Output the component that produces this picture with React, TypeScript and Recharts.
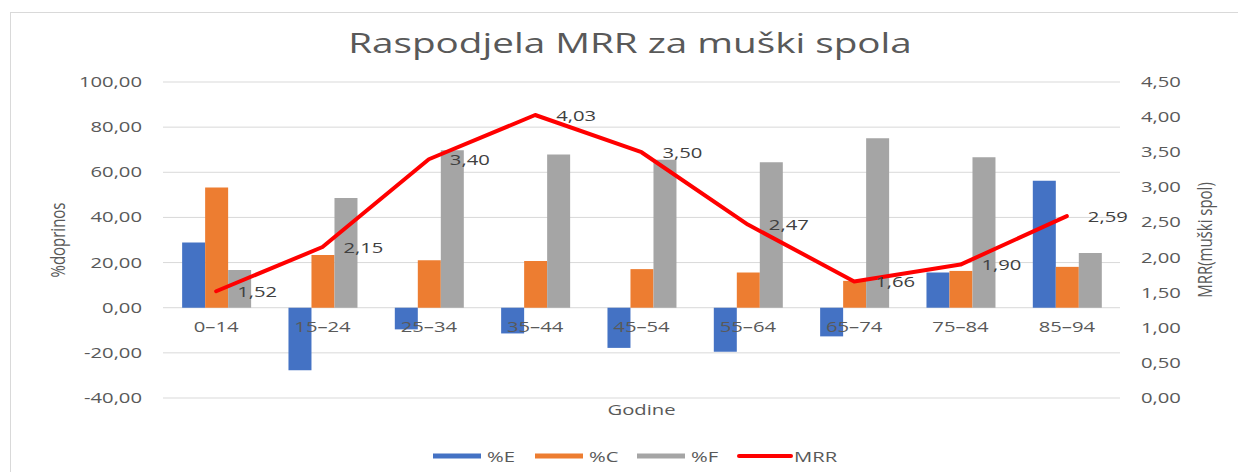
import React from "react"
import {
  Bar,
  CartesianGrid,
  ComposedChart,
  Label,
  LabelList,
  Legend,
  Line,
  XAxis,
  YAxis,
} from "recharts"

// age groups and contributions (%), MRR on right axis
const categories = ["0–14", "15–24", "25–34", "35–44", "45–54", "55–64", "65–74", "75–84", "85–94"]
const pctE = [28.9, -27.7, -9.6, -11.4, -17.8, -19.5, -12.7, 15.6, 56.3]
const pctC = [53.3, 23.4, 21.0, 20.7, 17.1, 15.6, 11.9, 16.3, 18.1]
const pctF = [16.7, 48.6, 69.8, 67.9, 65.5, 64.5, 75.1, 66.7, 24.2]
const mrr = [1.52, 2.15, 3.4, 4.03, 3.5, 2.47, 1.66, 1.9, 2.59]
const seriesNames = ["%E", "%C", "%F", "MRR"]

const leftTicks = [-40, -20, 0, 20, 40, 60, 80, 100]
const rightTicks = [0, 0.5, 1, 1.5, 2, 2.5, 3, 3.5, 4, 4.5]

const data = categories.map((cat, i) => ({
  cat,
  E: pctE[i],
  C: pctC[i],
  F: pctF[i],
  MRR: mrr[i],
}))

const SX = 1.35 // the original picture is stretched sideways
const FONT = "'Open Sans', sans-serif"
const GREY = "#595959"

const fmt = (v: number) => v.toFixed(2).replace(".", ",")

function LeftTick({ x, y, payload }: any) {
  return (
    <text transform={`translate(${x},${y + 5}) scale(${SX},1)`} textAnchor="end" fontSize={15} fill={GREY} fontFamily={FONT}>
      {fmt(payload.value)}
    </text>
  )
}

function RightTick({ x, y, payload }: any) {
  return (
    <text transform={`translate(${x},${y + 5}) scale(${SX},1)`} textAnchor="start" fontSize={15} fill={GREY} fontFamily={FONT}>
      {fmt(payload.value)}
    </text>
  )
}

// category labels sit next to the zero line, like Excel does
function CatTick({ x, y, payload }: any) {
  return (
    <text transform={`translate(${x},${y - 66}) scale(${SX},1)`} textAnchor="middle" fontSize={15} fill={GREY} fontFamily={FONT}>
      {payload.value}
    </text>
  )
}

function MrrLabel({ x, y, value }: any) {
  return (
    <text transform={`translate(${x + 21},${y + 5.5}) scale(${SX},1)`} fontSize={15} fill="#404040" fontFamily={FONT}>
      {fmt(value)}
    </text>
  )
}

function LegendContent({ payload }: any) {
  const items = [...(payload || [])].sort(
    (a: any, b: any) => seriesNames.indexOf(a.value) - seriesNames.indexOf(b.value)
  )
  let pos = 0
  return (
    <svg width={420} height={24}>
      {items.map((item: any) => {
        const x = pos
        const textW = String(item.value).length * 12.5
        pos += 48 + 6 + textW + 23
        const isLine = item.dataKey === "MRR"
        return (
          <g key={item.value}>
            {isLine ? (
              <line x1={x} x2={x + 52} y1={12} y2={12} stroke={item.color} strokeWidth={4} strokeLinecap="round" />
            ) : (
              <rect x={x} y={9.5} width={48} height={5} fill={item.color} />
            )}
            <text
              transform={`translate(${x + (isLine ? 55 : 54)},17.5) scale(${SX},1)`}
              fontSize={15}
              fill={GREY}
              fontFamily={FONT}
            >
              {item.value}
            </text>
          </g>
        )
      })}
    </svg>
  )
}

export default function App() {
  return (
    <div style={{ position: "absolute", left: 0, top: 0, width: 1238, height: 472, overflow: "hidden", background: "#fff" }}>
      <div style={{ position: "absolute", left: 10, top: 12, width: 1240, height: 470, border: "1px solid #d9d9d9" }} />
      <div
        style={{
          position: "absolute",
          left: 630,
          top: 28,
          fontFamily: FONT,
          fontSize: 28,
          lineHeight: "28px",
          color: GREY,
          whiteSpace: "nowrap",
          transform: "translateX(-50%) scaleX(1.38)",
        }}
      >
        Raspodjela MRR za muški spola
      </div>
      <ComposedChart
        width={1238}
        height={472}
        data={data}
        margin={{ top: 82, right: 38, left: 83, bottom: 69 }}
        barCategoryGap="18%"
        barGap={0}
      >
        <CartesianGrid yAxisId="left" vertical={false} stroke="#d9d9d9" strokeWidth={1} />
        <XAxis
          dataKey="cat"
          height={5}
          interval={0}
          tickLine={false}
          axisLine={false}
          tickSize={0}
          tickMargin={0}
          tick={<CatTick />}
        >
          <Label
            content={({ viewBox }: any) => (
              <text
                transform={`translate(${viewBox.x + viewBox.width / 2},${viewBox.y + 17}) scale(${SX},1)`}
                textAnchor="middle"
                fontSize={15}
                fill={GREY}
                fontFamily={FONT}
              >
                Godine
              </text>
            )}
          />
        </XAxis>
        <YAxis
          yAxisId="left"
          width={80}
          domain={[-40, 100]}
          ticks={leftTicks}
          interval={0}
          tickLine={false}
          axisLine={false}
          tickSize={0}
          tickMargin={21}
          tick={<LeftTick />}
        >
          <Label
            content={({ viewBox }: any) => (
              <text
                transform={`translate(${viewBox.x - 18},${viewBox.y + viewBox.height / 2}) scale(${SX},1) rotate(-90)`}
                textAnchor="middle"
                fontSize={15}
                fill={GREY}
                fontFamily={FONT}
              >
                %doprinos
              </text>
            )}
          />
        </YAxis>
        <YAxis
          yAxisId="right"
          orientation="right"
          width={80}
          domain={[0, 4.5]}
          ticks={rightTicks}
          interval={0}
          tickLine={false}
          axisLine={false}
          tickSize={0}
          tickMargin={21}
          tick={<RightTick />}
        >
          <Label
            content={({ viewBox }: any) => (
              <text
                transform={`translate(${viewBox.x + 92},${viewBox.y + viewBox.height / 2}) scale(${SX},1) rotate(-90)`}
                textAnchor="middle"
                fontSize={15}
                fill={GREY}
                fontFamily={FONT}
              >
                MRR(muški spol)
              </text>
            )}
          />
        </YAxis>
        <Legend
          layout="horizontal"
          verticalAlign="middle"
          align="center"
          wrapperStyle={{ left: 433, top: 444, width: 420, height: 24 }}
          content={<LegendContent />}
        />
        <Bar yAxisId="left" dataKey="E" name="%E" fill="#4472C4" isAnimationActive={false} />
        <Bar yAxisId="left" dataKey="C" name="%C" fill="#ED7D31" isAnimationActive={false} />
        <Bar yAxisId="left" dataKey="F" name="%F" fill="#A5A5A5" isAnimationActive={false} />
        <Line
          yAxisId="right"
          type="linear"
          dataKey="MRR"
          name="MRR"
          stroke="#FF0000"
          strokeWidth={4}
          strokeLinecap="round"
          strokeLinejoin="round"
          dot={false}
          activeDot={false}
          isAnimationActive={false}
        >
          <LabelList dataKey="MRR" content={<MrrLabel />} />
        </Line>
      </ComposedChart>
    </div>
  )
}
